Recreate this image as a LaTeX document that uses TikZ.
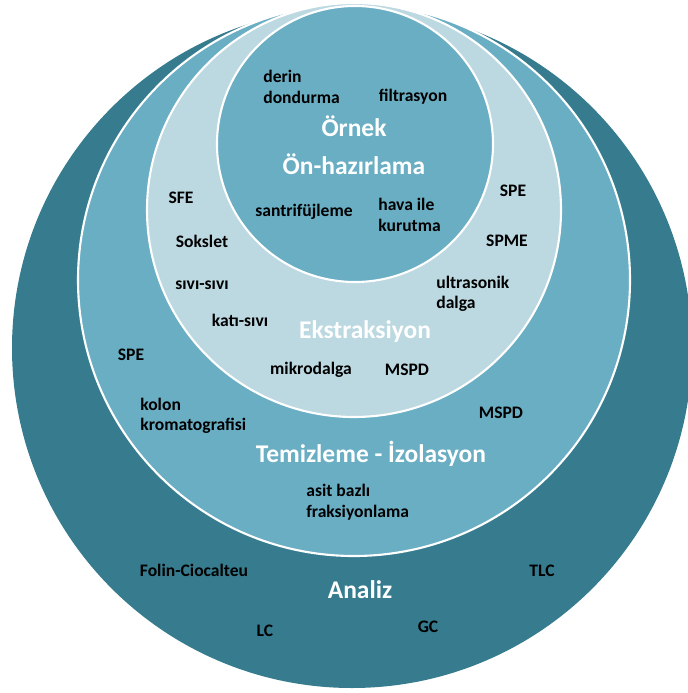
\documentclass[tikz,border=0pt]{standalone}
\usepackage{fontspec}
\setmainfont{Carlito}
\usepackage{tikz}
\usetikzlibrary{positioning}
\usepackage{xcolor}

\definecolor{koyu}{RGB}{54,124,142}
\definecolor{orta}{RGB}{106,174,196}
\definecolor{acik}{RGB}{188,216,225}

\begin{document}
\begin{tikzpicture}[
  x=0.02cm, y=-0.02cm,
  halka/.style={draw=white, line width=1.2pt},
  etiket/.style={font=\fontsize{10}{11.7}\selectfont\bfseries, text=black, inner sep=0pt, align=left},
  baslik/.style={font=\fontsize{14.5}{16}\selectfont\bfseries, text=white, inner sep=0pt}
]
\clip (0,0) rectangle (688,693);

% daireler
\fill[koyu] (352,348) circle (340);
\draw[halka, fill=orta] (354,280) circle (276);
\draw[halka, fill=acik] (354,210) circle (207);
\draw[halka, fill=orta] (355,144) circle (138);

% Örnek ön-hazırlama
\node[baslik] (ornek) at (354,126) {Örnek};
\node[baslik] (onhaz) at (354,164) {Ön-hazırlama};
\node[etiket, anchor=west] (derin) at (263,87) {derin\\dondurma};
\node[etiket] (filtre) at (413,97) {filtrasyon};
\node[etiket] (santri) at (304,212) {santrifüjleme};
\node[etiket, anchor=west] (hava) at (378,215) {hava ile\\kurutma};

% Ekstraksiyon
\node[baslik] (ekstr) at (365,332) {Ekstraksiyon};
\node[etiket] (sfe) at (181,198) {SFE};
\node[etiket] (soks) at (202,241) {Sokslet};
\node[etiket] (sivi) at (202,285) {sıvı-sıvı};
\node[etiket] (kati) at (240,320) {katı-sıvı};
\node[etiket] (mikro) at (311,370) {mikrodalga};
\node[etiket] (mspdA) at (407,370) {MSPD};
\node[etiket] (speA) at (513,191) {SPE};
\node[etiket] (spme) at (507,241) {SPME};
\node[etiket, anchor=west] (ultra) at (436,294) {ultrasonik\\dalga};

% Temizleme - İzolasyon
\node[baslik] (temiz) at (371,454) {Temizleme - İzolasyon};
\node[etiket] (speB) at (131,355) {SPE};
\node[etiket, anchor=west] (kolon) at (140,416) {kolon\\kromatografisi};
\node[etiket] (mspdB) at (501,413) {MSPD};
\node[etiket, anchor=west] (asit) at (306,502) {asit bazlı\\fraksiyonlama};

% Analiz
\node[baslik] (analiz) at (360,590) {Analiz};
\node[etiket] (folin) at (194,570) {Folin-Ciocalteu};
\node[etiket] (tlc) at (542,571) {TLC};
\node[etiket] (lc) at (265,631) {LC};
\node[etiket] (gc) at (428,627) {GC};

\end{tikzpicture}
\end{document}
